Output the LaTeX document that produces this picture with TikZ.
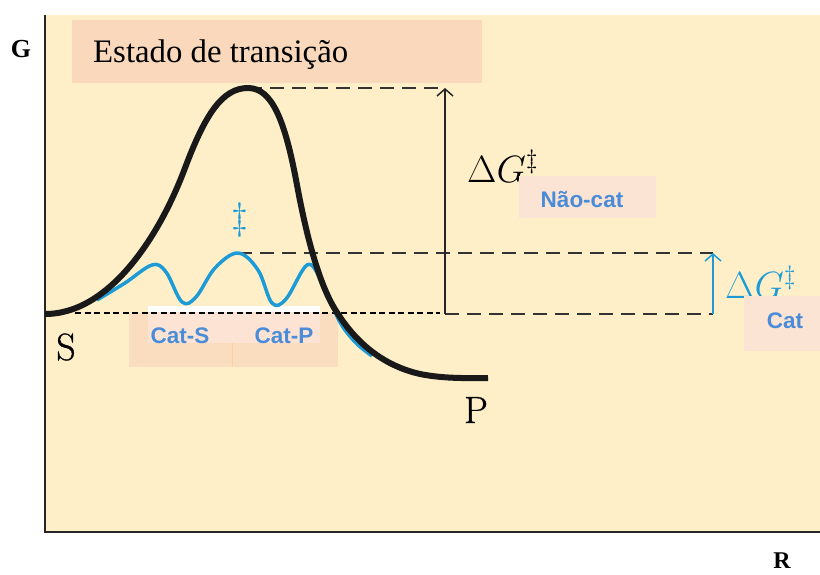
\RequirePackage{fix-cm}
\documentclass[tikz,border=0pt]{standalone}
\usepackage{fontspec}
\newfontfamily\tnr{Liberation Serif}
\newfontfamily\arial{Liberation Sans}
\newfontfamily\lmheavy{Latin Modern Roman}[FakeBold=0.8]
\usetikzlibrary{arrows.meta}
\definecolor{cream}{HTML}{FEEFC9}
\definecolor{peach}{HTML}{F9D8BB}
\definecolor{catouter}{HTML}{F9DDBE}
\definecolor{catinner}{HTML}{FCE3D3}
\definecolor{labelbox}{HTML}{FCE4D4}
\definecolor{bline}{HTML}{1D9BD6}
\definecolor{btext}{HTML}{4A8CD8}
\begin{document}
\begin{tikzpicture}[x=1pt,y=-1pt,
  boxstyle/.style={inner sep=0pt, anchor=north west},
  catlabel/.style={font=\arial\bfseries\fontsize{22.5}{26}\selectfont, text=btext, inner sep=0pt},
  axislabel/.style={font=\tnr\bfseries\fontsize{26}{30}\selectfont, inner sep=0pt},
  statelabel/.style={font=\fontsize{38}{42}\selectfont, inner sep=0pt},
  longdash/.style={draw=black!80, line width=1.6pt, dash pattern=on 14pt off 8pt},
  shortdash/.style={draw=black, line width=2pt, dash pattern=on 6pt off 3.5pt},
  gap/.style={line width=1.5pt, -{Straight Barb[length=7pt,width=16pt,line width=1.5pt]}}
]
\useasboundingbox (0,0) rectangle (820,574);
% background and axes
\fill[cream] (45,15) rectangle (820,532);
\draw[line width=1.3pt, black!85] (45,15) -- (45,532) -- (820,532);
\node[axislabel] (G) at (21,49) {G};
\node[axislabel, font=\tnr\bfseries\fontsize{24}{28}\selectfont] (R) at (782,561) {R};
% title
\node[boxstyle, fill=peach, minimum width=410pt, minimum height=63pt] (titlebox) at (72,20) {};
\node[anchor=base west, inner sep=0pt, font=\tnr\fontsize{32.8}{38}\selectfont] (title) at (93,62) {Estado de transição};
% Cat-S / Cat-P boxes
\node[boxstyle, fill=catouter, minimum width=209pt, minimum height=54pt] (catbox) at (129,313) {};
\draw[catouter!85!orange, line width=0.4pt] (232,313) -- (232,367);
\node[boxstyle, fill=catinner, minimum width=172pt, minimum height=32pt] (catin) at (148,311) {};
\node[boxstyle, fill=white, minimum width=172pt, minimum height=6pt] (whitestrip) at (148,306) {};
\node[catlabel] (catS) at (180,336) {Cat-S};
\node[catlabel] (catP) at (284,336) {Cat-P};
% coordinates
\coordinate (peak) at (248,88);
\coordinate (bpeak) at (238,253);
\coordinate (Slev) at (75,313);
\coordinate (arrA) at (445,314);
\coordinate (arrAtop) at (445,88);
\coordinate (arrB) at (713,314);
\coordinate (arrBtop) at (713,253);
% dashed levels
\draw[longdash] (peak) -- (arrAtop);
\draw[longdash] (bpeak) -- (arrBtop);
\draw[shortdash] (Slev) -- (440,313);
\draw[longdash] (arrA) -- (arrB);
% arrows
\draw[gap, black!85] (arrA) -- (arrAtop);
\draw[gap, bline] (arrB) -- (arrBtop);
% blue catalysed curve
\draw[bline, line width=3.5pt, line join=round] plot[smooth, tension=0.6] coordinates {
 (97,300) (125,283) (152,265) (166,272) (182,302) (196,297) (215,268) (238,253) (258,270) (272,303) (286,299) (307,265) (320,278) (331,302) (341,324) (356,343) (372,356)};
% black uncatalysed curve
\draw[black!90, line width=6pt, line join=round]
  (45,314) .. controls (110,314) and (160,235) .. (185,168)
  .. controls (205,115) and (222,88) .. (peak)
  .. controls (272,88) and (285,120) .. (297,185)
  .. controls (305,228) and (318,285) .. (338,314)
  .. controls (358,345) and (385,366) .. (420,374)
  .. controls (445,379) and (470,378) .. (488,378);
% labels
\node[statelabel, font=\lmheavy\fontsize{38}{42}\selectfont, anchor=base] (S) at (66,360) {S};
\node[statelabel, font=\lmheavy\fontsize{38}{42}\selectfont, anchor=base] (P) at (476,423) {P};
\node[statelabel, text=bline] (dag) at (240,220) {$\ddagger$};
\node[statelabel, anchor=base west] (dGnc) at (467,182) {$\Delta G^{\ddagger}$};
\node[statelabel, anchor=base west, text=bline] (dGc) at (725,298) {$\Delta G^{\ddagger}$};
\node[boxstyle, fill=labelbox, minimum width=137pt, minimum height=42pt] (ncbox) at (519,176) {};
\node[catlabel] (nc) at (582,199) {Não-cat};
\node[boxstyle, fill=labelbox, minimum width=76pt, minimum height=55pt] (cbox) at (744,296) {};
\node[catlabel] (c) at (785,321) {Cat};
\end{tikzpicture}
\end{document}
